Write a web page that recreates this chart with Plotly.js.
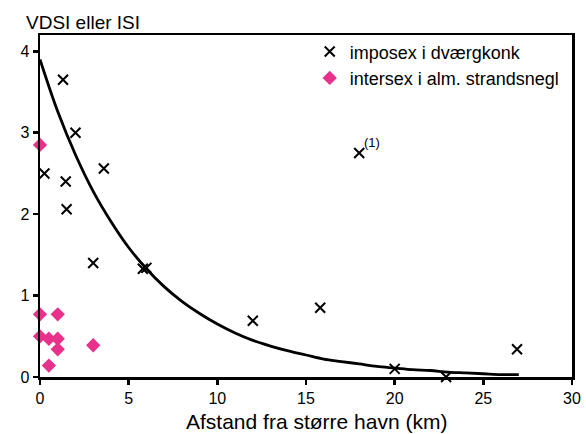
<!DOCTYPE html>
<html>
<head>
<meta charset="utf-8">
<script src="https://cdn.plot.ly/plotly-3.0.1.min.js"></script>
<style>html,body{margin:0;padding:0;background:#fff;}#chart{width:586px;height:434px;}</style>
</head>
<body>
<div id="chart"></div>
<script>
// imposex i dværgkonk (VDSI)
const imposexX = [1.3, 2.0, 0.25, 1.45, 1.5, 3.6, 3.0, 5.8, 6.0, 12.0, 15.8, 18.0, 20.0, 22.9, 26.9];
const imposexY = [3.65, 3.0, 2.5, 2.4, 2.06, 2.56, 1.4, 1.33, 1.34, 0.69, 0.85, 2.75, 0.1, 0.0, 0.34];
// intersex i alm. strandsnegl (ISI)
const intersexX = [0, 0, 1.0, 0, 0.5, 1.0, 1.0, 0.5, 3.0];
const intersexY = [2.85, 0.77, 0.77, 0.5, 0.47, 0.47, 0.34, 0.14, 0.39];
// fitted trend curve
const curveX = [0,1,2,3,4,5,6,7,8,9,10,11,12,13,14,15,16,17,18,19,20,21,22,23,24,25,26,27];
const curveY = [3.9,3.26,2.73,2.28,1.91,1.59,1.33,1.11,0.93,0.78,0.65,0.54,0.45,0.38,0.32,0.27,0.22,0.19,0.16,0.13,0.11,0.09,0.08,0.06,0.05,0.04,0.03,0.03];
const xTicks = [0,5,10,15,20,25,30];
const yTicks = [0,1,2,3,4];

const FONT = "Liberation Sans, Arial, Helvetica, sans-serif";

const traces = [
  {x: curveX, y: curveY, mode: 'lines', line: {color: '#000', width: 2.8, shape: 'spline'}, showlegend: false, hoverinfo: 'skip'},
  {x: imposexX, y: imposexY, mode: 'markers', name: 'imposex i dværgkonk', cliponaxis: false,
   marker: {symbol: 'x-thin', size: 10, color: '#000', line: {color: '#000', width: 2}}},
  {x: intersexX, y: intersexY, mode: 'markers', name: 'intersex i alm. strandsnegl', cliponaxis: false,
   marker: {symbol: 'diamond', size: 11, color: '#e8318a', line: {width: 0}}}
];

const layout = {
  width: 586, height: 434,
  margin: {l: 40, r: 14, t: 35, b: 57, autoexpand: false},
  paper_bgcolor: '#fff', plot_bgcolor: '#fff',
  font: {family: FONT, color: '#000', size: 16},
  showlegend: true,
  legend: {x: 0.507, y: 1.005, xanchor: 'left', yanchor: 'top', bgcolor: 'rgba(0,0,0,0)',
           font: {family: FONT, size: 18, color: '#000'}, tracegroupgap: 0, itemwidth: 30},
  xaxis: {range: [0, 30], tickvals: xTicks, ticktext: xTicks.map(String), showgrid: false, zeroline: false,
          showline: true, linecolor: '#000', linewidth: 2.5, mirror: true,
          ticks: 'outside', ticklen: 5, tickwidth: 2.5, tickcolor: '#000',
          tickfont: {family: FONT, size: 16}},
  yaxis: {range: [0, 4.2], tickvals: yTicks, ticktext: yTicks.map(String), showgrid: false, zeroline: false,
          showline: true, linecolor: '#000', linewidth: 2.5, mirror: true,
          ticks: 'outside', ticklen: 5, tickwidth: 2.5, tickcolor: '#000',
          tickfont: {family: FONT, size: 16}},
  annotations: [
    {xref: 'paper', yref: 'paper', x: -0.03, y: 1.0, xanchor: 'left', yanchor: 'bottom',
     text: 'VDSI eller ISI', showarrow: false, font: {family: FONT, size: 19, color: '#000'}},
    {xref: 'paper', yref: 'paper', x: 0.52, y: -0.13, xanchor: 'center', yanchor: 'middle',
     text: 'Afstand fra større havn (km)', showarrow: false, font: {family: FONT, size: 21, color: '#000'}},
    {x: 18.0, y: 2.75, text: '(1)', showarrow: false, xanchor: 'left', yanchor: 'bottom',
     xshift: 3, yshift: 1, font: {family: FONT, size: 13, color: '#000'}}
  ]
};

Plotly.newPlot('chart', traces, layout, {displayModeBar: false, staticPlot: true});
</script>
</body>
</html>
